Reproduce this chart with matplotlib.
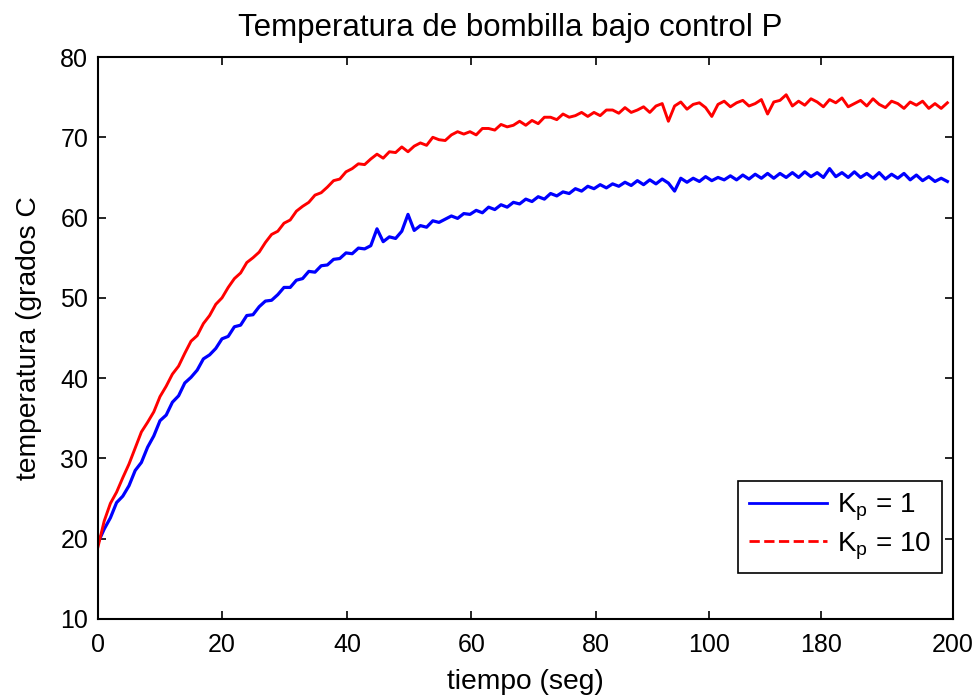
import numpy as np
import matplotlib
matplotlib.use('Agg')
import matplotlib.pyplot as plt
from matplotlib.lines import Line2D

# datos (una muestra por unidad de tiempo)
temp_kp10 = [
    19.0, 22.2, 24.4, 25.8, 27.6, 29.3, 31.3, 33.3, 34.5, 35.8,
    37.7, 39.0, 40.5, 41.5, 43.1, 44.6, 45.3, 46.8, 47.8, 49.2,
    50.0, 51.3, 52.4, 53.1, 54.4, 55.0, 55.7, 56.9, 57.9, 58.3,
    59.3, 59.7, 60.8, 61.4, 61.9, 62.8, 63.1, 63.8, 64.6, 64.8,
    65.7, 66.1, 66.7, 66.6, 67.3, 67.9, 67.4, 68.2, 68.1, 68.8,
    68.2, 68.9, 69.3, 69.0, 70.0, 69.7, 69.6, 70.3, 70.7, 70.4,
    70.7, 70.3, 71.1, 71.1, 70.9, 71.6, 71.3, 71.5, 72.0, 71.5,
    72.1, 71.7, 72.5, 72.5, 72.2, 72.9, 72.5, 72.7, 73.1, 72.6,
    73.1, 72.7, 73.4, 73.4, 73.0, 73.7, 73.1, 73.4, 73.8, 73.1,
    73.9, 74.2, 72.0, 73.9, 74.4, 73.5, 74.1, 74.3, 73.7, 72.6,
    74.1, 74.5, 73.8, 74.3, 74.6, 73.9, 74.2, 74.7, 72.9, 74.4,
    74.6, 75.3, 73.9, 74.5, 74.0, 74.8, 74.4, 73.8, 74.7, 74.3,
    74.9, 73.8, 74.2, 74.6, 73.9, 74.8, 74.1, 73.7, 74.5, 74.2,
    73.6, 74.4, 74.0, 74.5, 73.6, 74.2, 73.6, 74.3]

temp_kp1 = [
    19.5, 21.2, 22.6, 24.5, 25.3, 26.6, 28.5, 29.5, 31.4, 32.8,
    34.7, 35.4, 37.0, 37.8, 39.4, 40.1, 41.0, 42.4, 42.9, 43.7,
    44.9, 45.2, 46.4, 46.6, 47.8, 47.9, 48.9, 49.6, 49.7, 50.4,
    51.3, 51.3, 52.2, 52.4, 53.3, 53.2, 54.0, 54.1, 54.8, 54.9,
    55.6, 55.5, 56.2, 56.1, 56.5, 58.6, 57.0, 57.6, 57.4, 58.3,
    60.4, 58.4, 59.0, 58.8, 59.6, 59.4, 59.8, 60.2, 59.9, 60.5,
    60.4, 60.9, 60.6, 61.3, 61.0, 61.6, 61.3, 61.9, 61.7, 62.3,
    62.0, 62.6, 62.3, 63.0, 62.7, 63.2, 63.0, 63.6, 63.3, 63.9,
    63.6, 64.1, 63.7, 64.2, 63.9, 64.4, 64.0, 64.6, 64.1, 64.7,
    64.2, 64.8, 64.3, 63.3, 64.9, 64.4, 64.9, 64.5, 65.1, 64.6,
    65.0, 64.7, 65.2, 64.7, 65.3, 64.8, 65.4, 64.9, 65.5, 64.9,
    65.5, 65.0, 65.6, 65.0, 65.7, 65.1, 65.6, 65.0, 66.1, 65.1,
    65.6, 65.0, 65.7, 65.0, 65.5, 64.9, 65.6, 64.8, 65.4, 64.9,
    65.5, 64.7, 65.3, 64.6, 65.1, 64.5, 64.9, 64.5]

tiempo = np.arange(len(temp_kp1))

# marcas del eje x (tal como aparecen en la figura)
xtick_pos = [0, 20, 40.2, 60.2, 80.3, 98.6, 116.6, 137.9]
xtick_lbl = ['0', '20', '40', '60', '80', '100', '180', '200']
ytick_pos = [10, 20, 30, 40, 50, 60, 70, 80]

plt.rcParams['font.family'] = ['Liberation Sans', 'DejaVu Sans']
plt.rcParams['mathtext.fontset'] = 'custom'
plt.rcParams['mathtext.rm'] = 'Liberation Sans'

fig = plt.figure(figsize=(9.79, 6.98), dpi=100)
ax = fig.add_axes([0.1001, 0.1132, 0.8733, 0.8051])

ax.plot(tiempo, temp_kp1, color='#0000ff', lw=2.3)
ax.plot(tiempo, temp_kp10, color='#ff0000', lw=2.1)

ax.set_xlim(0, 137.9)
ax.set_ylim(10, 80)
ax.set_xticks(xtick_pos)
ax.set_xticklabels(xtick_lbl)
ax.set_yticks(ytick_pos)
ax.tick_params(direction='in', length=5.5, width=1.2, labelsize=18,
               top=True, right=True)
ax.tick_params(axis='x', pad=10)
ax.tick_params(axis='y', pad=7)
for s in ax.spines.values():
    s.set_linewidth(1.5)

ax.set_title('Temperatura de bombilla bajo control P', fontsize=22.5,
             pad=14.8, x=0.482)
ax.set_xlabel('tiempo (seg)', fontsize=20.3, labelpad=9)
ax.set_ylabel('temperatura (grados C', fontsize=20.3, labelpad=13)

handles = [Line2D([], [], color='#0000ff', lw=2.0),
           Line2D([], [], color='#ff0000', lw=2.0, ls='--')]
leg = ax.legend(handles, [r'K$_\mathrm{p}$ = 1', r'K$_\mathrm{p}$ = 10'],
                loc='lower right', bbox_to_anchor=(0.987, 0.082),
                borderaxespad=0, fontsize=20, handlelength=2.8,
                handletextpad=0.35, fancybox=False, edgecolor='black',
                framealpha=1, borderpad=0.4, labelspacing=0.25)
leg.get_frame().set_linewidth(1.2)

fig.savefig('out.png', dpi=100)
